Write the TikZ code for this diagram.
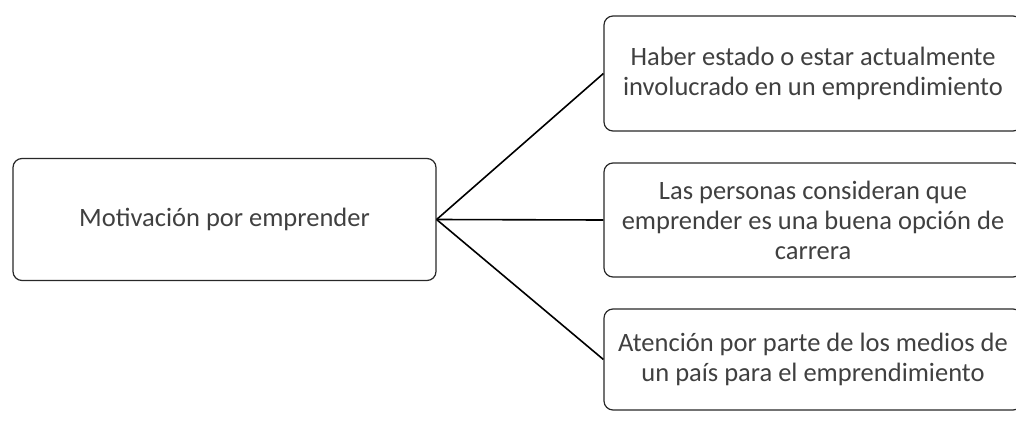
\documentclass[tikz,border=0pt]{standalone}
\usepackage{fontspec}
\setmainfont{Carlito}
\usepackage{xcolor}
\definecolor{texto}{RGB}{64,64,64}
\definecolor{borde}{RGB}{40,40,40}

\tikzset{
	caja/.style={draw=borde, line width=1.2pt, rounded corners=9pt, align=center, text=texto,
		inner sep=0pt, font=\fontsize{26.5}{30}\selectfont},
	rama/.style={draw=black, line width=1.6pt}
}

\begin{document}
\begin{tikzpicture}[x=1pt,y=-1pt]
			\useasboundingbox (0,0) rectangle (1016,420);
			\node[caja, minimum width=423pt, minimum height=122pt] (motiv) at (224.5,219.5) {Motivación por emprender};
			\node[caja, minimum width=418pt, minimum height=115pt] (haber) at (813,73.5) {Haber estado o estar actualmente\\involucrado en un emprendimiento};
			\node[caja, minimum width=418pt, minimum height=114pt] (carrera) at (813,220) {Las personas consideran que\\emprender es una buena opción de\\carrera};
			\node[caja, minimum width=418pt, minimum height=101pt] (medios) at (813,359.5) {Atención por parte de los medios de\\un país para el emprendimiento};
			\draw[rama] (motiv.east) -- (haber.west);
			\draw[rama] (motiv.east) -- (carrera.west);
			\draw[rama] (motiv.east) -- (medios.west);
		\end{tikzpicture}
\end{document}
